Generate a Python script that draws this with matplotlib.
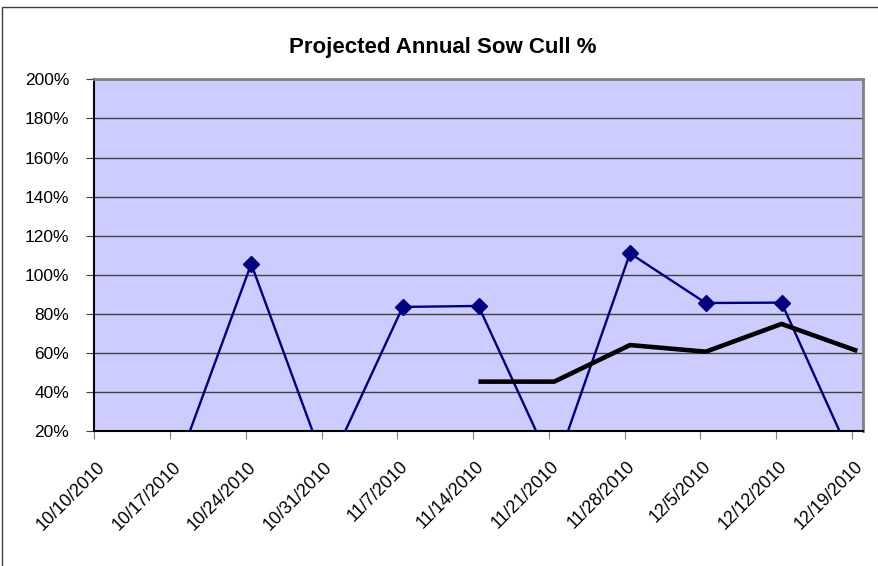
import matplotlib
matplotlib.use("Agg")
import matplotlib.pyplot as plt
from matplotlib.patches import Rectangle
from matplotlib.ticker import FuncFormatter
from matplotlib.transforms import ScaledTranslation

plt.rcParams['font.family'] = ['Liberation Sans', 'DejaVu Sans']

# weekly dates on the category axis
dates = ['10/10/2010', '10/17/2010', '10/24/2010', '10/31/2010', '11/7/2010',
         '11/14/2010', '11/21/2010', '11/28/2010', '12/5/2010', '12/12/2010',
         '12/19/2010']
# weekly projected cull % (zero weeks fall below the axis floor)
weekly = [0.0, 0.0, 1.056, 0.0, 0.836, 0.841, 0.0, 1.11, 0.856, 0.858, 0.0]
# running average line, starts at 11/14
avg_dates = ['11/14/2010', '11/21/2010', '11/28/2010', '12/5/2010',
             '12/12/2010', '12/19/2010']
avg_vals = [0.454, 0.454, 0.641, 0.607, 0.749, 0.611]

W, H = 879, 566
fig = plt.figure(figsize=(W/100, H/100), dpi=100)

# outer chart border (cut off at right/bottom like the original)
fig.patches.append(Rectangle((2.5/W, -0.1), 2.0, (H-7)/H + 0.1,
                             transform=fig.transFigure, fill=False,
                             ec='#404040', lw=1))

left, right, top, bottom = 94.3, 862.7, 79.3, 431.3
ax = fig.add_axes([left/W, 1-bottom/H, (right-left)/W, (bottom-top)/H])
ax.set_facecolor('#CCCCFF')

# date axis: one unit per day, points sit mid-day
day = {d: 7*i for i, d in enumerate(dates)}
x_week = [day[d] + 0.5 for d in dates]
x_avg = [day[d] + 0.5 for d in avg_dates]

ax.plot(x_week, weekly, color='#000080', lw=1.7, marker='D', ms=8,
        mec='#000080', mfc='#000080', zorder=3)
ax.plot(x_avg, avg_vals, color='black', lw=3.3, solid_capstyle='butt', zorder=4)

ax.set_xlim(0, 71)
ax.set_ylim(0.2, 2.0)
ax.set_yticks([0.2 + 0.2*i for i in range(10)])
ax.yaxis.set_major_formatter(FuncFormatter(lambda v, p: '%d%%' % round(v*100)))
ax.set_xticks([day[d] for d in dates])
ax.set_xticklabels([])
# rotated date labels, end of text just right of each tick
lab_tr = ax.get_xaxis_transform() + ScaledTranslation(2/100, -27/100,
                                                      fig.dpi_scale_trans)
for d in dates:
    ax.text(day[d], 0, d, transform=lab_tr, rotation=45, ha='right',
            va='top', rotation_mode='anchor', fontsize=12.8, clip_on=False)
ax.tick_params(axis='y', labelsize=12.5, length=6, color='#404040', pad=12)
ax.tick_params(axis='x', length=6, color='#808080')

ax.grid(axis='y', color='#404040', lw=1)
ax.set_axisbelow(True)
for s in ('top', 'right'):
    ax.spines[s].set_color('#808080')
    ax.spines[s].set_linewidth(2)
for s in ('left', 'bottom'):
    ax.spines[s].set_color('black')
    ax.spines[s].set_linewidth(1.5)

fig.text(442.5/W, 1-47/H, 'Projected Annual Sow Cull %', ha='center',
         va='center', fontsize=16, fontweight='bold')

fig.savefig('out.png', dpi=100)
